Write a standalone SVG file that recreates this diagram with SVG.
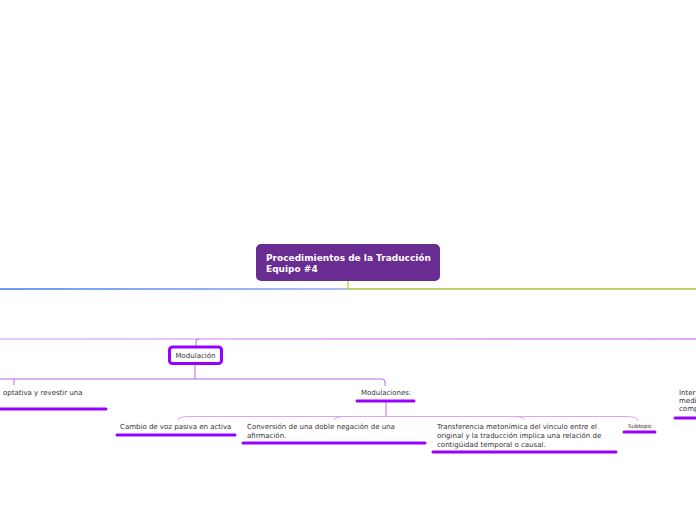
<svg xmlns="http://www.w3.org/2000/svg" width="696" height="520" viewBox="0 0 696 520">
<defs>
<linearGradient id="gBlue" gradientUnits="userSpaceOnUse" x1="0" y1="0" x2="348" y2="0"><stop offset="0" stop-color="#3b7bf0"/><stop offset="1" stop-color="#8eaaf2"/></linearGradient>
<linearGradient id="gLilac" gradientUnits="userSpaceOnUse" x1="0" y1="0" x2="696" y2="0"><stop offset="0" stop-color="#e6b8f8"/><stop offset="1" stop-color="#d38af6"/></linearGradient>
<style>
.t{font-family:"DejaVu Sans",Verdana,sans-serif;font-size:7px;fill:#333}
.ts{font-family:"DejaVu Sans",Verdana,sans-serif;font-size:5.5px;fill:#333}
.title{font-family:"DejaVu Sans",Verdana,sans-serif;font-size:9px;font-weight:bold;fill:#fff}
.ul{stroke:#9900ff;stroke-width:3;stroke-linecap:round;fill:none}
.c1{stroke:#b06ee6;stroke-width:1;fill:none}
.c2{stroke:#d9a6f6;stroke-width:1;fill:none}
</style>
</defs>
<g id="connectors">
<path d="M0 289 H348" stroke="url(#gBlue)" stroke-width="1.5" fill="none"/>
<path d="M348 281 V289" stroke="#88ee00" stroke-width="1.2" fill="none"/>
<path d="M348 289 H696" stroke="#a9c43c" stroke-width="1.5" fill="none"/>
<path d="M0 339 H696" stroke="url(#gLilac)" stroke-width="1.5" fill="none"/>
<path d="M199 339 Q196 339 196 342 V346" class="c1"/>
<path d="M195 364 V379" class="c1"/>
<path d="M0 379 H382 Q385 379 385 382 V386" class="c1"/>
<path d="M14 379 V385" class="c1"/>
<path d="M386 401 V416" class="c1"/>
<path d="M178 420 Q178 416.5 190 416.5 H626 Q638 416.5 638 421" class="c2"/>
<path d="M334 420 Q334 416.5 346 416.5" class="c2"/>
<path d="M512 416.5 Q524 416.5 524 420" class="c2"/>
</g>
<g id="root">
<rect x="256" y="244" width="184" height="37" rx="5" fill="#692c91"/>
<text class="title" x="266" y="261">Procedimientos de la Traducción</text>
<text class="title" x="266" y="272">Equipo #4</text>
</g>
<g id="modulacion">
<rect x="169.5" y="347" width="52" height="16.5" rx="3" fill="#fff" stroke="#9900ff" stroke-width="3"/>
<text class="t" x="195.5" y="358" text-anchor="middle">Modulación</text>
</g>
<g id="optativa">
<text class="t" x="3" y="395">optativa y revestir una</text>
<path class="ul" d="M0 409 H106"/>
</g>
<g id="modulaciones">
<text class="t" x="361" y="395">Modulaciones:</text>
<path class="ul" d="M357 401 H414"/>
</g>
<g id="cambio">
<text class="t" x="120" y="429">Cambio de voz pasiva en activa</text>
<path class="ul" d="M117 435 H235"/>
</g>
<g id="conversion">
<text class="t" x="247" y="429">Conversión de una doble negación de una</text>
<text class="t" x="247" y="438">afirmación.</text>
<path class="ul" d="M243 443 H425"/>
</g>
<g id="transferencia">
<text class="t" x="437" y="429">Transferencia metonímica del vínculo entre el</text>
<text class="t" x="437" y="438">original y la traducción implica una relación de</text>
<text class="t" x="437" y="447">contigüidad temporal o causal.</text>
<path class="ul" d="M433 452 H616"/>
</g>
<g id="subtopic">
<text class="ts" x="628" y="428">Subtopic</text>
<path class="ul" d="M624 432 H655"/>
</g>
<g id="inter">
<text class="t" x="679" y="395">Inter</text>
<text class="t" x="679" y="403">medi</text>
<text class="t" x="679" y="411">comp</text>
<path class="ul" d="M675 418 H696"/>
</g>
</svg>
